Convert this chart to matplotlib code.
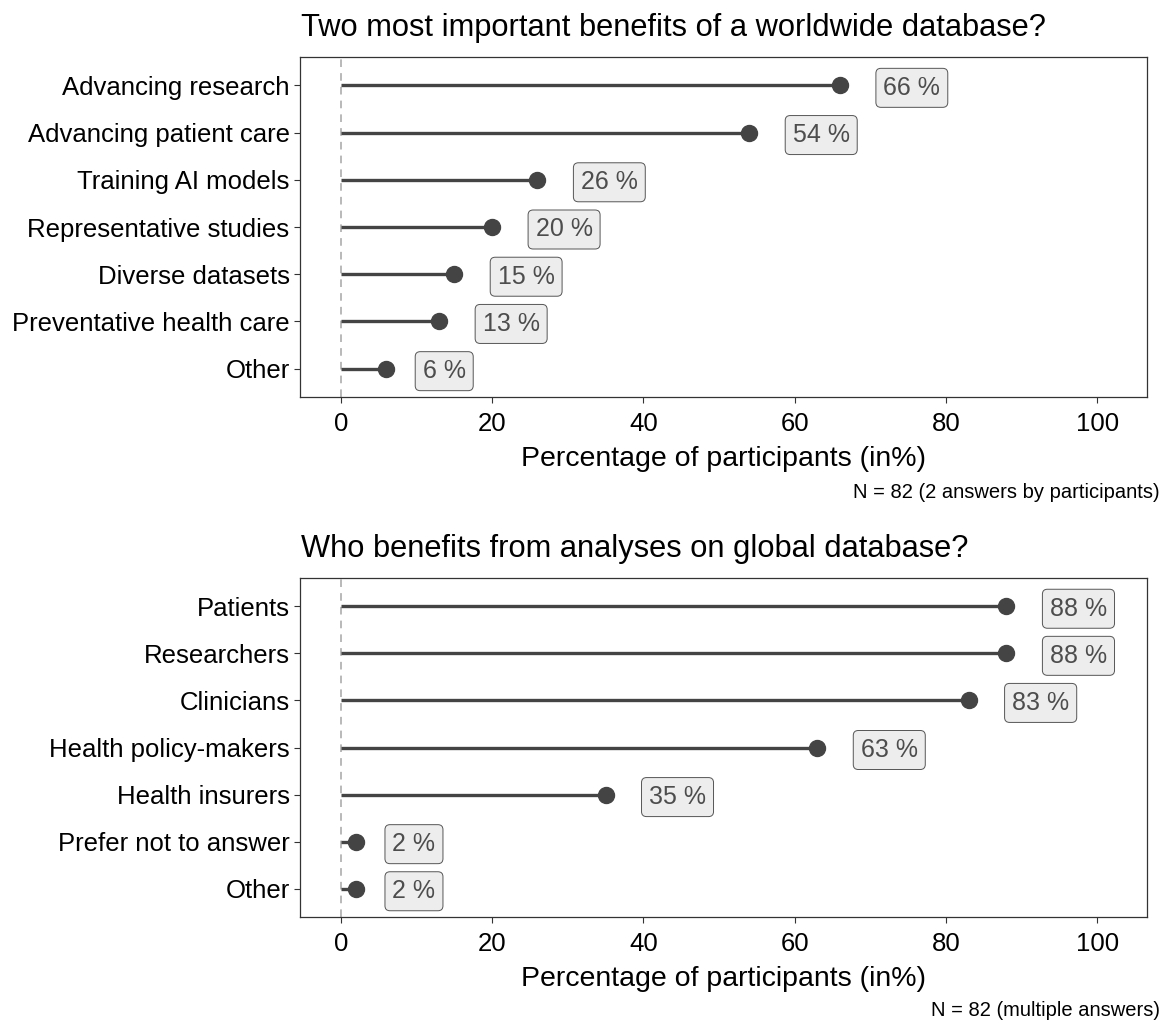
import numpy as np
import matplotlib.pyplot as plt

plt.rcParams['font.family'] = ['Liberation Sans', 'DejaVu Sans']

# top panel data
benefits = ['Advancing research', 'Advancing patient care', 'Training AI models',
            'Representative studies', 'Diverse datasets', 'Preventative health care', 'Other']
benefit_pct = [66, 54, 26, 20, 15, 13, 6]

# bottom panel data
who = ['Patients', 'Researchers', 'Clinicians', 'Health policy-makers',
       'Health insurers', 'Prefer not to answer', 'Other']
who_pct = [88, 88, 83, 63, 35, 2, 2]

titles = ['Two most important benefits of a worldwide database?',
          'Who benefits from analyses on global database?']
captions = ['N = 82 (2 answers by participants)', 'N = 82 (multiple answers)']

W, H = 1167, 1023
fig = plt.figure(figsize=(W / 100, H / 100), dpi=100)

dark = '#444444'
labels = []


def panel(rect, cats, vals, title, caption, cap_y):
    ax = fig.add_axes(rect)
    y = np.arange(len(cats))[::-1]
    ax.axvline(0, color='#a6a6a6', lw=1.1, ls=(0, (5, 4)), zorder=1)
    ax.hlines(y, 0, vals, color=dark, lw=2.4, zorder=2)
    ax.plot(vals, y, 'o', color=dark, ms=11.5, zorder=3)
    for yi, v in zip(y, vals):
        # label box starts half its own width right of the point (hjust = -0.5)
        t = ax.annotate(f'{v} %', xy=(v, yi), xytext=(0, 0), textcoords='offset pixels',
                        ha='center', va='center_baseline', fontsize=18,
                        color='#4d4d4d', zorder=4,
                        bbox=dict(boxstyle='round,pad=0.3,rounding_size=0.2',
                                  fc='#ededed', ec='#555555', lw=0.7))
        labels.append(t)
    ax.set_xlim(-5.4, 106.6)
    ax.set_ylim(-0.6, len(cats) - 0.4)
    ax.set_yticks(y)
    ax.set_yticklabels(cats)
    ax.set_xticks([0, 20, 40, 60, 80, 100])
    ax.tick_params(axis='both', labelsize=18.5, colors='#333333', labelcolor='black',
                   length=4, width=0.8)
    ax.tick_params(axis='x', pad=7)
    for s in ax.spines.values():
        s.set_color('#333333')
        s.set_linewidth(0.9)
    ax.set_xlabel('Percentage of participants (in%)', fontsize=20.5, labelpad=7)
    fig.text(rect[0] + 0.001, rect[1] + rect[3] + 0.014, title, fontsize=22.2,
             ha='left', va='bottom')
    fig.text(0.994, cap_y, caption, fontsize=14.5, ha='right', va='center')
    return ax


panel([300 / W, 1 - 397 / H, 847 / W, 340 / H], benefits, benefit_pct,
      titles[0], captions[0], 1 - 493 / H)
panel([300 / W, 1 - 917 / H, 847 / W, 339 / H], who, who_pct,
      titles[1], captions[1], 1 - 1010 / H)

fig.canvas.draw()
for t in labels:
    w = t.get_bbox_patch().get_window_extent().width
    t.set_position((w, 0))

fig.savefig('out.png', dpi=100)
